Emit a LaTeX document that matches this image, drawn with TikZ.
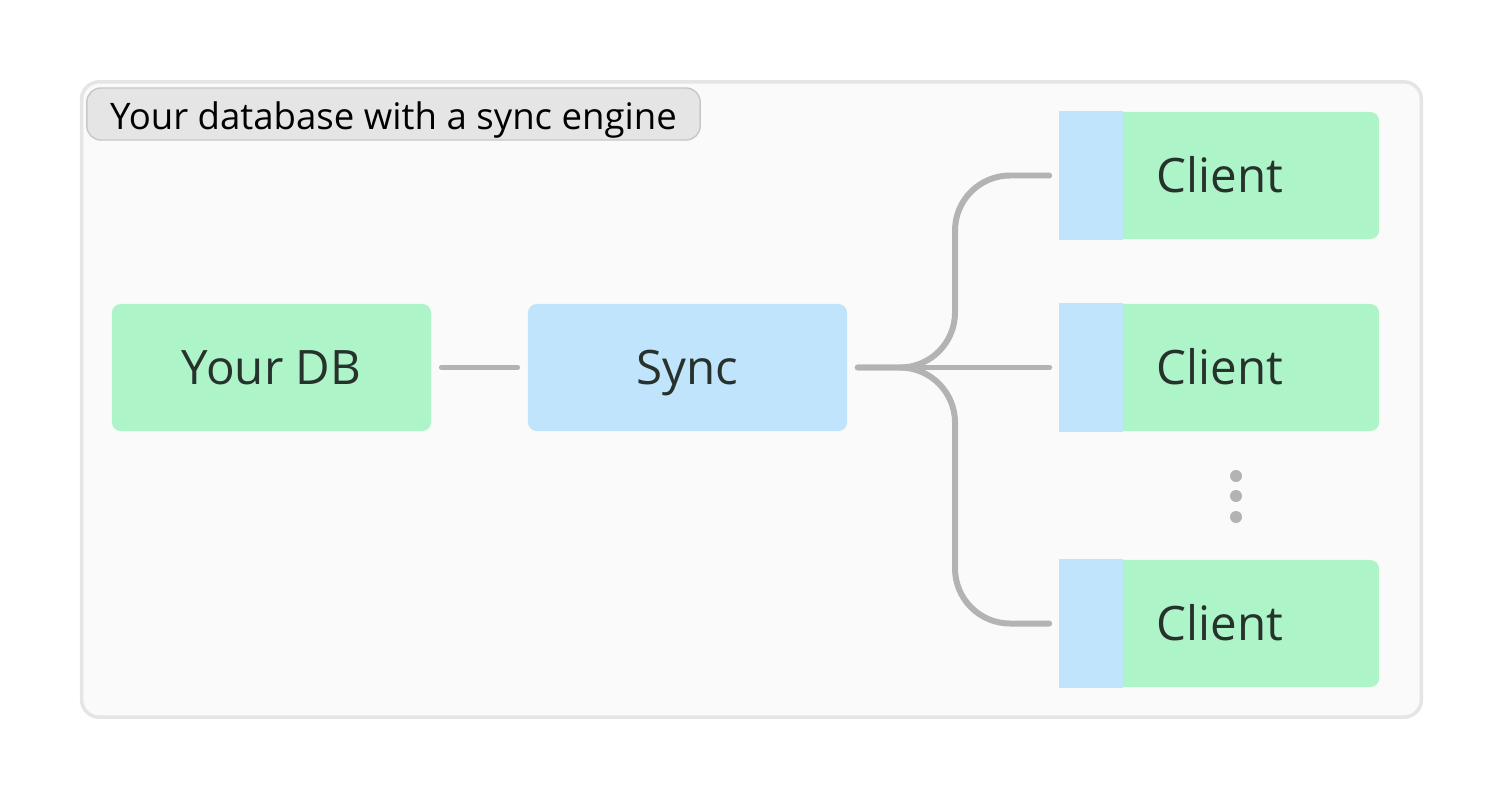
\documentclass[tikz,border=0pt]{standalone}
\usepackage{fontspec}
\setmainfont{Open Sans}
\usetikzlibrary{positioning,calc}
\definecolor{dbgreen}{HTML}{AEF4C9}
\definecolor{syncblue}{HTML}{C0E4FC}
\definecolor{wire}{HTML}{B3B3B3}
\definecolor{txt}{HTML}{26322B}
\begin{document}
\begin{tikzpicture}[x=0.01cm,y=-0.01cm,
  box/.style={rectangle, rounded corners=2.5pt, minimum width=3.19cm, minimum height=1.27cm, text=txt, font=\fontsize{13.5}{16}\selectfont, inner sep=0pt, text height=0.96em, text depth=0pt},
  link/.style={draw=wire, line width=1.7pt, line cap=round},
  dot/.style={circle, fill=wire, inner sep=0pt, minimum size=0.12cm}]
\useasboundingbox (0,0) rectangle (1504,800);
% frame
\node[draw=black!10, line width=1pt, fill=black!2, rounded corners=5pt, minimum width=13.39cm, minimum height=6.35cm] (frame) at (751.5,399.5) {};
\node[draw=black!22, fill=black!10, rounded corners=4pt, minimum width=6.13cm, minimum height=0.52cm, font=\fontsize{10.4}{12}\selectfont, inner sep=0pt, text height=0.86em, text depth=0pt] (title) at (393.5,114) {Your database with a sync engine};

% main row
\node[box, fill=dbgreen] (db) at (271.5,367.5) {Your DB};
\node[box, fill=syncblue] (sync) at (687.5,367.5) {Sync};

% clients
\foreach \name/\y in {ca/175.5, cb/367.5, cc/623.5}{
  \node[box, fill=dbgreen] (\name) at (1219.5,\y) {};
  \fill[syncblue] (\name.north west) rectangle ($(\name.south west)+(64,0)$);
  \node[box, minimum size=0pt] at (1220,\y) {Client};
}

% dots
\foreach \y in {476,496,517}
  \node[dot] at (1236,\y) {};

% connectors
\draw[link, shorten <=0.1cm, shorten >=0.1cm] (db.east) -- (sync.west);
\coordinate (split) at (955,367.5);
\draw[link, shorten <=0.1cm, shorten >=0.1cm] (sync.east) -- (cb.west);
\draw[link, rounded corners=0.55cm, shorten <=0.1cm, shorten >=0.1cm] (sync.east) -- (split) |- (ca.west);
\draw[link, rounded corners=0.55cm, shorten <=0.1cm, shorten >=0.1cm] (sync.east) -- (split) |- (cc.west);
\end{tikzpicture}
\end{document}
